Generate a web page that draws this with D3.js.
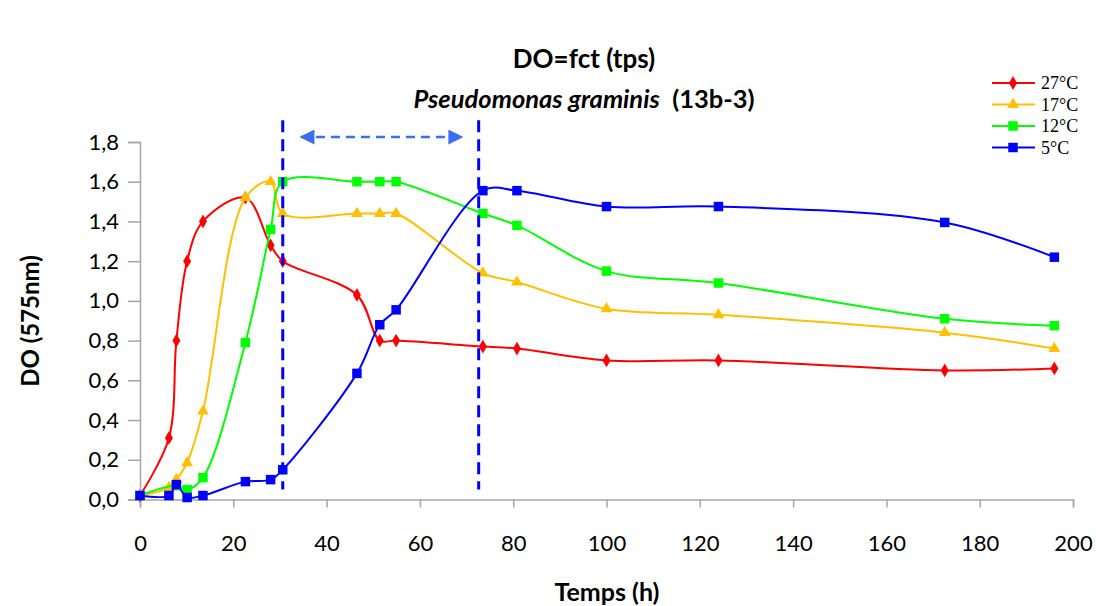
<!DOCTYPE html>
<html>
<head>
<meta charset="utf-8">
<script src="https://cdnjs.cloudflare.com/ajax/libs/d3/7.8.5/d3.min.js"></script>
<style>
	body { margin: 0; background: #ffffff; }
	svg { display: block; }
</style>
</head>
<body>
<svg id="chart" width="1096" height="606"></svg>
<script>
// data (temps en heures, DO a 575nm)
var times = [0, 6.2, 7.8, 10.1, 13.5, 22.6, 28, 30.6, 46.5, 51.4, 54.9, 73.5, 80.8, 100, 124, 172.5, 196];

var do27 = [0.02, 0.31, 0.80, 1.20, 1.40, 1.52, 1.28, 1.20, 1.03, 0.80, 0.80, 0.77, 0.76, 0.70, 0.70, 0.65, 0.66];
var do17 = [0.02, 0.06, 0.10, 0.185, 0.445, 1.52, 1.60, 1.44, 1.44, 1.44, 1.44, 1.14, 1.095, 0.96, 0.93, 0.84, 0.76];
var do12 = [0.02, null, 0.07, 0.05, 0.11, 0.79, 1.36, 1.60, 1.60, 1.60, 1.60, 1.44, 1.38, 1.15, 1.09, 0.91, 0.875];
var do5 = [0.02, 0.02, 0.075, 0.01, 0.02, 0.09, 0.10, 0.15, 0.635, 0.88, 0.955, 1.555, 1.555, 1.475, 1.475, 1.395, 1.22];

var seriesNames = ["27°C", "17°C", "12°C", "5°C"];
var xTicks = [0, 20, 40, 60, 80, 100, 120, 140, 160, 180, 200];
var yTicks = [0, 0.2, 0.4, 0.6, 0.8, 1.0, 1.2, 1.4, 1.6, 1.8];

// annotation : phase entre les deux pointilles
var phaseLimits = [30.6, 72.6];
var phaseArrow = [34.5, 69];

// layout
const width = 1096;
const height = 606;
const margin = {top: 142, right: 23, bottom: 106.5, left: 140};
const colors = ["#ff0000", "#ffc000", "#00ff00", "#0000ff"];
const symbols = [d3.symbolDiamond, d3.symbolTriangle, d3.symbolSquare, d3.symbolSquare];
const symbolSizes = [55, 60, 90, 90];

var svg = d3.select("#chart");

var x = d3.scaleLinear()
	.domain([0, 200])
	.range([margin.left, width - margin.right]);

var y = d3.scaleLinear()
	.domain([0, 1.8])
	.range([height - margin.bottom, margin.top]);

// axes
var xAxis = d3.axisBottom(x)
	.tickValues(xTicks)
	.tickSize(8)
	.tickPadding(28)
	.tickFormat(d3.format("d"));

var yAxis = d3.axisLeft(y)
	.tickValues(yTicks)
	.tickSize(12)
	.tickPadding(9)
	.tickFormat(function(d) { return d3.format(".1f")(d).replace(".", ","); });

var gx = svg.append("g")
	.attr("transform", "translate(0," + y(0) + ")")
	.call(xAxis);

var gy = svg.append("g")
	.attr("transform", "translate(" + x(0) + ",0)")
	.call(yAxis);

[gx, gy].forEach(function(g) {
	g.select(".domain").attr("stroke", "#a6a6a6").attr("stroke-width", 1.5);
	g.selectAll(".tick line").attr("stroke", "#a6a6a6").attr("stroke-width", 1.5);
	g.selectAll(".tick text")
		.attr("fill", "#000")
		.style("font-family", "Lato, 'Open Sans', sans-serif")
		.style("font-size", "22px");
});

// series
var allSeries = [do27, do17, do12, do5];

var line = d3.line()
	.x(function(d) { return x(d[0]); })
	.y(function(d) { return y(d[1]); })
	.curve(d3.curveCatmullRom.alpha(0.5));

allSeries.forEach(function(values, i) {
	var points = [];
	for(var k = 0; k < times.length; k++) {
		if(values[k] !== null) {
			points.push([times[k], values[k]]);
		}
	}

	svg.append("path")
		.datum(points)
		.attr("fill", "none")
		.attr("stroke", colors[i])
		.attr("stroke-width", 2)
		.attr("stroke-linejoin", "round")
		.attr("d", line);

	svg.append("g")
		.selectAll("path")
		.data(points)
		.enter()
		.append("path")
			.attr("transform", function(d) { return "translate(" + x(d[0]) + "," + y(d[1]) + ")"; })
			.attr("d", d3.symbol().type(symbols[i]).size(symbolSizes[i]))
			.attr("fill", colors[i]);
});

// vertical dashed lines
svg.append("g")
	.selectAll("line")
	.data(phaseLimits)
	.enter()
	.append("line")
		.attr("x1", function(d) { return x(d); })
		.attr("x2", function(d) { return x(d); })
		.attr("y1", y(1.91))
		.attr("y2", y(0.05))
		.attr("stroke", "#0000ff")
		.attr("stroke-width", 3)
		.attr("stroke-dasharray", "12,7");

// double arrow
var defs = svg.append("defs");
defs.append("marker")
	.attr("id", "arrowHead")
	.attr("viewBox", "0 0 10 10")
	.attr("refX", 9)
	.attr("refY", 5)
	.attr("markerWidth", 6.5)
	.attr("markerHeight", 6)
	.attr("markerUnits", "strokeWidth")
	.attr("orient", "auto-start-reverse")
	.append("path")
		.attr("d", "M0,0L10,5L0,10Z")
		.attr("fill", "#3b6ff0");

svg.append("line")
	.attr("x1", x(phaseArrow[0]))
	.attr("x2", x(phaseArrow[1]))
	.attr("y1", y(1.825))
	.attr("y2", y(1.825))
	.attr("stroke", "#3b6ff0")
	.attr("stroke-width", 2.5)
	.attr("stroke-dasharray", "9,6")
	.attr("marker-start", "url(#arrowHead)")
	.attr("marker-end", "url(#arrowHead)");

// titles
svg.append("text")
	.attr("x", 584)
	.attr("y", 68)
	.attr("text-anchor", "middle")
	.style("font-family", "Lato, 'Open Sans', sans-serif")
	.style("font-weight", "bold")
	.style("font-size", "26px")
	.text("DO=fct (tps)");

var subtitle = svg.append("text")
	.attr("x", 584)
	.attr("y", 108)
	.attr("text-anchor", "middle")
	.style("font-family", "Lato, 'Open Sans', sans-serif")
	.style("font-weight", "bold")
	.style("font-size", "25.5px");
subtitle.append("tspan").style("font-style", "italic").text("Pseudomonas graminis");
subtitle.append("tspan").text("\u00a0 (13b-3)");

svg.append("text")
	.attr("x", 607)
	.attr("y", 601)
	.attr("text-anchor", "middle")
	.style("font-family", "Lato, 'Open Sans', sans-serif")
	.style("font-weight", "bold")
	.style("font-size", "25px")
	.text("Temps (h)");

svg.append("text")
	.attr("transform", "translate(39,321) rotate(-90)")
	.attr("text-anchor", "middle")
	.style("font-family", "Lato, 'Open Sans', sans-serif")
	.style("font-weight", "bold")
	.style("font-size", "24px")
	.text("DO (575nm)");

// legend
var legend = svg.append("g")
	.attr("transform", "translate(992,83)");

var rows = legend.selectAll("g")
	.data(seriesNames)
	.enter()
	.append("g")
		.attr("transform", function(d, i) { return "translate(0," + (i * 21.5) + ")"; });

rows.append("line")
	.attr("x1", 0)
	.attr("x2", 43)
	.attr("stroke", function(d, i) { return colors[i]; })
	.attr("stroke-width", 2);

rows.append("path")
	.attr("transform", "translate(21,0)")
	.attr("d", function(d, i) { return d3.symbol().type(symbols[i]).size(symbolSizes[i])(); })
	.attr("fill", function(d, i) { return colors[i]; });

rows.append("text")
	.attr("x", 49)
	.attr("y", 6)
	.style("font-family", "'Liberation Serif', serif")
	.style("font-size", "18px")
	.text(function(d) { return d; });
</script>
</body>
</html>
